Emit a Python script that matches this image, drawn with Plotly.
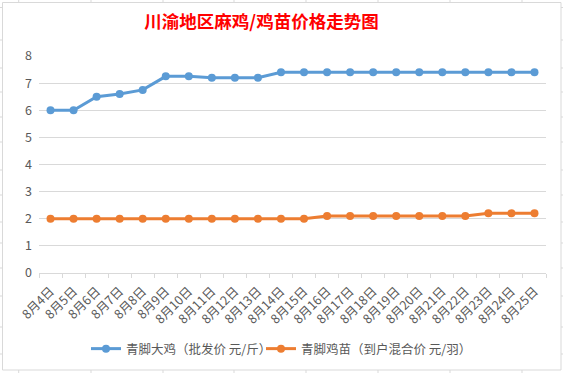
import plotly.graph_objects as go

dates = ["8月4日", "8月5日", "8月6日", "8月7日", "8月8日", "8月9日", "8月10日", "8月11日",
         "8月12日", "8月13日", "8月14日", "8月15日", "8月16日", "8月17日", "8月18日",
         "8月19日", "8月20日", "8月21日", "8月22日", "8月23日", "8月24日", "8月25日"]
chicken = [6.0, 6.0, 6.5, 6.6, 6.75, 7.25, 7.25, 7.2, 7.2, 7.2, 7.4, 7.4, 7.4, 7.4, 7.4,
           7.4, 7.4, 7.4, 7.4, 7.4, 7.4, 7.4]
chick = [2.0, 2.0, 2.0, 2.0, 2.0, 2.0, 2.0, 2.0, 2.0, 2.0, 2.0, 2.0, 2.1, 2.1, 2.1,
         2.1, 2.1, 2.1, 2.1, 2.2, 2.2, 2.2]
name1 = "青脚大鸡（批发价 元/斤）"
name2 = "青脚鸡苗（到户混合价 元/羽）"
title = "川渝地区麻鸡/鸡苗价格走势图"
yticks = [0, 1, 2, 3, 4, 5, 6, 7, 8]

W, H = 563, 373
L, R, T, B = 39, 546, 56, 273
PW, PH = R - L, B - T

def px(x):
    return (x - L) / PW

def py(y):
    return (B - y) / PH

FONT = "Noto Sans CJK SC"
fig = go.Figure()
fig.add_trace(go.Scatter(x=dates, y=chicken, name=name1, mode="lines+markers",
                         line=dict(color="#5B9BD5", width=3),
                         marker=dict(size=8, color="#5B9BD5"), legend="legend"))
fig.add_trace(go.Scatter(x=dates, y=chick, name=name2, mode="lines+markers",
                         line=dict(color="#ED7D31", width=3),
                         marker=dict(size=8, color="#ED7D31"), legend="legend2"))

legend_style = dict(orientation="h", xanchor="left", y=py(349), yanchor="middle",
                    font=dict(size=12.5, color="#595959"), itemwidth=30,
                    bgcolor="rgba(0,0,0,0)")

fig.update_layout(
    width=W, height=H,
    margin=dict(l=L, r=W - R, t=T, b=H - B, autoexpand=False),
    paper_bgcolor="white", plot_bgcolor="white",
    font=dict(family=FONT, color="#595959", size=12),
    title=dict(text=title, x=261.5 / W, xanchor="center", y=1 - 22 / H, yanchor="middle",
               font=dict(family=FONT, size=17.5, color="#FF0000", weight="bold")),
    showlegend=True,
    legend=dict(x=px(86), **legend_style),
    legend2=dict(x=px(261), **legend_style),
    xaxis=dict(type="category", tickangle=-45, tickson="boundaries", ticks="outside",
               ticklen=4, tickcolor="#D9D9D9", showline=True, linecolor="#D9D9D9",
               linewidth=1, showgrid=False, tickfont=dict(size=12.5, color="#595959"),
               range=[-0.5, 21.5], automargin=False, ticklabelstandoff=5),
    yaxis=dict(range=[0, 8], tickvals=yticks, showgrid=True, gridcolor="#D9D9D9",
               gridwidth=1, zeroline=False, showline=False, ticks="",
               tickfont=dict(size=12.5, color="#595959"), ticklabelstandoff=6,
               automargin=False),
)

# chart-area border
fig.add_shape(type="rect", xref="paper", yref="paper",
              x0=px(2.5), x1=px(561), y0=py(370), y1=py(2.5),
              line=dict(color="#D9D9D9", width=1), layer="below")

# spreadsheet gridline stubs outside the chart area
for cx in [18.7, 91, 163, 234, 306, 378, 450, 522]:
    fig.add_shape(type="line", xref="paper", yref="paper",
                  x0=px(cx), x1=px(cx), y0=py(0), y1=py(2.5),
                  line=dict(color="#D9D9D9", width=1))
    fig.add_shape(type="line", xref="paper", yref="paper",
                  x0=px(cx), x1=px(cx), y0=py(370), y1=py(373),
                  line=dict(color="#D9D9D9", width=1))
for ry in [7.5, 40, 68, 92, 117, 142, 170, 195, 222, 243, 268, 296, 327, 354]:
    fig.add_shape(type="line", xref="paper", yref="paper",
                  x0=px(0), x1=px(2.5), y0=py(ry), y1=py(ry),
                  line=dict(color="#D9D9D9", width=1))
    fig.add_shape(type="line", xref="paper", yref="paper",
                  x0=px(561), x1=px(563), y0=py(ry), y1=py(ry),
                  line=dict(color="#D9D9D9", width=1))

fig.write_html("out.html", config={"displayModeBar": False},
               post_script="document.body.style.margin='0';document.body.style.padding='0';")
